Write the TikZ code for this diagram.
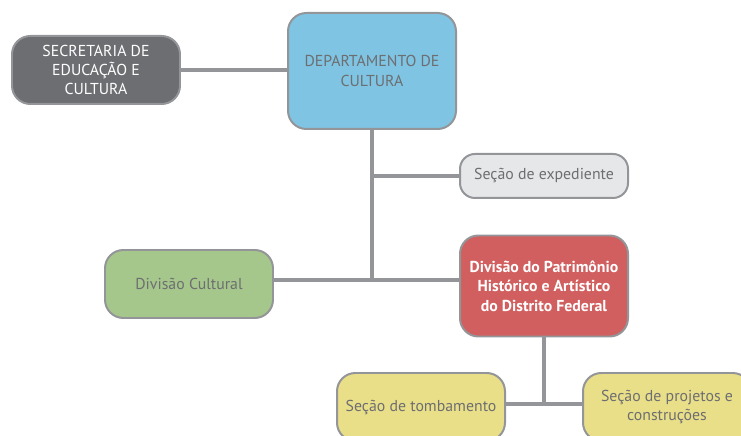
\documentclass[tikz,border=0pt]{standalone}
\usepackage{fontspec}
\setmainfont{PT Sans}
\usepackage{xcolor}
\usetikzlibrary{positioning, calc}

\definecolor{linegray}{HTML}{939598}
\definecolor{textgray}{HTML}{6D6E71}
\definecolor{darkbox}{HTML}{6D6E71}
\definecolor{bluebox}{HTML}{7FC4E2}
\definecolor{lightbox}{HTML}{E6E7E8}
\definecolor{redbox}{HTML}{D25F5F}
\definecolor{greenbox}{HTML}{A6C78C}
\definecolor{yellowbox}{HTML}{E9DF89}

\begin{document}
\begin{tikzpicture}[
            node_style/.style={rectangle, rounded corners=0.55cm, draw=linegray, line width=1.7pt, minimum width=5.04cm, minimum height=2.04cm, align=center, text=textgray, font=\fontsize{13.5}{16.5}\selectfont},
            dark/.style={node_style, fill=darkbox, text=white},
            dept/.style={node_style, fill=bluebox, minimum height=3.48cm},
            light/.style={node_style, fill=lightbox, minimum height=1.32cm, rounded corners=0.45cm},
            red/.style={node_style, fill=redbox, text=white, minimum height=3.03cm, font=\fontsize{13.5}{16.5}\selectfont\bfseries},
            green/.style={node_style, fill=greenbox},
            yellow/.style={node_style, fill=yellowbox},
            conn/.style={draw=linegray, line width=3pt}
        ]
\useasboundingbox (0,0) rectangle (22.23,13.08);
\clip (0,0) rectangle (22.23,13.08);

% Organisation chart boxes
            \node[dark] (secretaria) at (2.88,10.98) {SECRETARIA DE\\EDUCAÇÃO E\\CULTURA};
            \node[dept] (departamento) at (11.16,10.95) {DEPARTAMENTO DE\\CULTURA};
            \node[light] (expediente) at (16.32,7.8) {Seção de expediente};
            \node[red] (patrimonio) at (16.32,4.5) {Divisão do Patrimônio\\Histórico e Artístico\\do Distrito Federal};
            \node[green] (cultural) at (5.67,4.56) {Divisão Cultural};
            \node[yellow] (tombamento) at (12.63,0.87) {Seção de tombamento};
            \node[yellow] (projetos) at (20.01,0.87) {Seção de projetos e\\construções};

% Junction points
            \coordinate (j_exp) at (departamento.south |- expediente.west);
            \coordinate (j_div) at (11.16,4.68);
            \coordinate (j_sec) at (patrimonio.south |- 0,0.96);

% Connections
            \draw[conn] (secretaria.east) -- (departamento.west |- secretaria.east);
            \draw[conn] (departamento.south) -- (j_div);
            \draw[conn] (j_exp) -- (expediente.west);
            \draw[conn] (cultural.east |- j_div) -- (patrimonio.west |- j_div);
            \draw[conn] (patrimonio.south) -- (j_sec);
            \draw[conn] (tombamento.east |- j_sec) -- (projetos.west |- j_sec);

        \end{tikzpicture}
\end{document}
